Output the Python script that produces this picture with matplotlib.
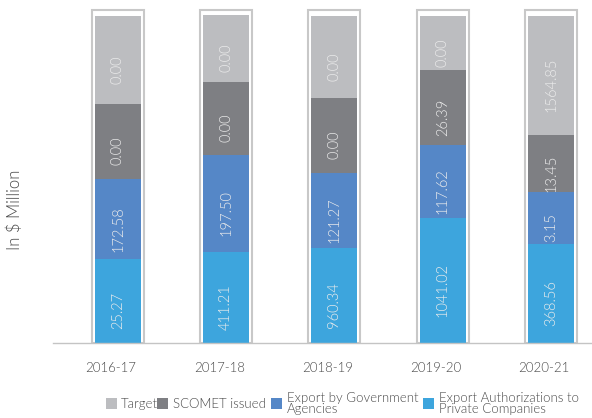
import matplotlib
matplotlib.use("Agg")
import matplotlib.pyplot as plt
from matplotlib.patches import Rectangle
from matplotlib.transforms import offset_copy
import numpy as np

# Fiscal years
years = ["2016-17", "2017-18", "2018-19", "2019-20", "2020-21"]

# Series names, bottom to top
series = ["Export Authorizations to\nPrivate Companies",
          "Export by Government\nAgencies",
          "SCOMET issued",
          "Target"]

# Values printed on each segment (in $ Million)
private_vals = [25.27, 411.21, 960.34, 1041.02, 368.56]
govt_vals = [172.58, 197.50, 121.27, 117.62, 3.15]
scomet_vals = [0.00, 0.00, 0.00, 26.39, 13.45]
target_vals = [0.00, 0.00, 0.00, 0.00, 1564.85]

# Drawn segment heights (column layout units; each column is a fixed-height card)
private_h = [84, 91, 95, 125, 99]
govt_h = [80, 97, 75, 73, 52]
scomet_h = [75, 73, 75, 75, 57]
target_h = [88, 67, 82, 54, 119]

colors = ["#3DA5DD", "#5587C7", "#7E7F83", "#BCBDC0"]
label_color = "#ECECEC"
text_color = "#4A4A4A"
W8 = 300  # light weight

plt.rcParams["font.family"] = ["Lato", "DejaVu Sans"]
plt.rcParams["font.weight"] = W8

W, H = 592, 418
fig = plt.figure(figsize=(W / 100, H / 100), dpi=100)
ax = fig.add_axes([53 / W, (H - 343) / H, (W - 53) / W, (343 - 5) / H])

x = np.arange(len(years))
bar_w = 0.425
frame_w = 0.48
frame_top = 333

# Outline card behind each column
for xi in x:
    ax.add_patch(Rectangle((xi - frame_w / 2, 0), frame_w, frame_top,
                           facecolor="none", edgecolor="#C8C8C8", lw=1.5, zorder=1))

heights = [private_h, govt_h, scomet_h, target_h]
values = [private_vals, govt_vals, scomet_vals, target_vals]
bottom = np.zeros(len(years))
lab_tr = offset_copy(ax.transData, fig=fig, x=0, y=-7, units="points")
for h, v, c in zip(heights, values, colors):
    h = np.array(h, dtype=float)
    ax.bar(x, h, bar_w, bottom=bottom, color=c, zorder=2, linewidth=0)
    for xi, b, hi, val in zip(x, bottom, h, v):
        ax.text(xi, b + hi / 2, f"{val:.2f}", rotation=90, ha="center", va="center",
                color=label_color, fontsize=10.5, fontweight=W8,
                transform=lab_tr, zorder=3)
    bottom += h

ax.set_xlim(-0.6, 4 + 41 / 108.25)
ax.set_ylim(0, 338)
ax.set_yticks([])
for s in ["left", "right", "top"]:
    ax.spines[s].set_visible(False)
ax.spines["bottom"].set_color("#C4C4C4")
ax.spines["bottom"].set_linewidth(1.0)
ax.set_xticks(x)
ax.set_xticklabels(years, fontweight=W8)
ax.tick_params(axis="x", length=0, pad=14, labelsize=9.5, labelcolor=text_color)
shift = matplotlib.transforms.ScaledTranslation(-7 / 100, 0, fig.dpi_scale_trans)
for lbl in ax.get_xticklabels():
    lbl.set_transform(lbl.get_transform() + shift)

fig.text(15 / W, 1 - 210 / H, "In $ Million", rotation=90, ha="center", va="center",
         fontsize=12, color=text_color, fontweight=W8)


def px(xp, yp):
    return xp / W, 1 - yp / H


# Legend drawn in figure pixels
legend_items = [("Target", 106, 121, colors[3]),
                ("SCOMET issued", 157, 173, colors[2]),
                (series[1], 271, 287, colors[1]),
                (series[0], 423, 439, colors[0])]
for name, sx, tx, c in legend_items:
    x0, y0 = px(sx, 409)
    fig.add_artist(Rectangle((x0, y0), 11 / W, 11 / H, transform=fig.transFigure,
                             facecolor=c, edgecolor="none"))
    fig.text(*px(tx, 403.5), name, ha="left", va="center", fontsize=9.5,
             color=text_color, linespacing=0.95, fontweight=W8)

fig.savefig("out.png", dpi=100)
